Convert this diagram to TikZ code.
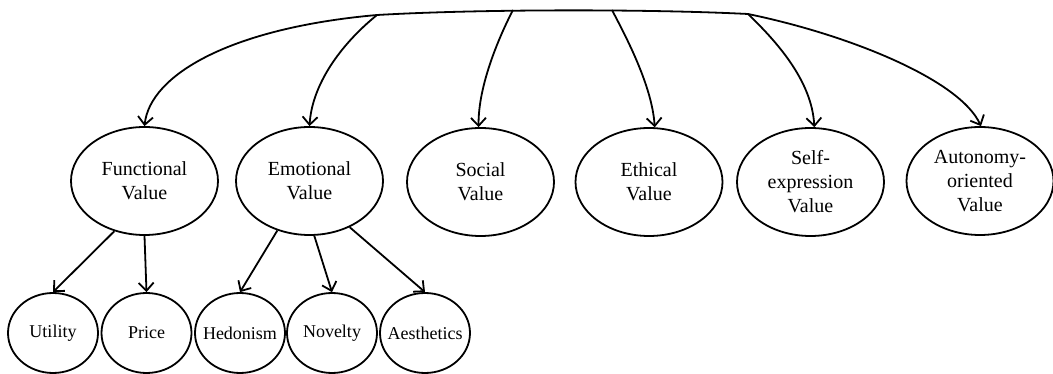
\documentclass[tikz,border=0pt]{standalone}
\usepackage{fontspec}
\setmainfont{Liberation Serif}
\usetikzlibrary{arrows.meta,shapes.geometric}
\newcommand{\nobox}[1]{\makebox[0pt]{#1}}
\begin{document}
\begin{tikzpicture}[x=1pt,y=-1pt,
  lw/.style={line width=1.8pt},
  big/.style={ellipse,draw,lw,minimum width=147pt,minimum height=108pt,inner sep=0pt,align=center,font=\fontsize{20}{24}\selectfont},
  small/.style={ellipse,draw,lw,minimum width=90pt,minimum height=80pt,inner sep=0pt,font=\fontsize{18}{22}\selectfont},
  arr/.style={lw,-{Straight Barb[length=8pt,width=15pt,line width=1.8pt]}}]
\useasboundingbox (0,0) rectangle (1053,374);
\node[big] (fv) at (144.5,181) {Functional\\Value};
\node[big] (ev) at (309.5,181) {Emotional\\Value};
\node[big] (sv) at (480.5,182) {Social\\Value};
\node[big] (tv) at (649,182) {Ethical\\Value};
\node[big] (xv) at (810.5,182) {Self-\\expression\\Value};
\node[big] (av) at (980,181) {Autonomy-\\oriented\\Value};
\node[small] (ut) at (53,333) {\nobox{Utility}};
\node[small] (pr) at (146.5,333) {\nobox{Price}};
\node[small] (he) at (240,333) {\nobox{Hedonism}};
\node[small] (no) at (332,333) {\nobox{Novelty}};
\node[small] (ae) at (425,333) {\nobox{Aesthetics}};
\coordinate (b1) at (377,15);
\coordinate (b2) at (513,10);
\coordinate (b3) at (612,10);
\coordinate (b4) at (748,14);
\draw[lw] (b1) .. controls (480,9) and (650,9) .. (b4);
\draw[arr] (b1) .. controls (230,28) and (150,75) .. (fv.north);
\draw[arr] (b1) .. controls (340,45) and (312,85) .. (ev.north);
\draw[arr] (b2) .. controls (500,35) and (478,85) .. (sv.92);
\draw[arr] (b3) .. controls (625,35) and (652,85) .. (tv.84);
\draw[arr] (b4) .. controls (775,40) and (812,80) .. (xv.86);
\draw[arr] (b4) .. controls (850,35) and (960,80) .. (av.89);
\draw[arr] (fv.239) -- (ut.north);
\draw[arr] (fv.south) -- (pr.north);
\draw[arr] (ev.237) -- (he.north);
\draw[arr] (ev.275) -- (no.north);
\draw[arr] (ev.311) -- (ae.north);
\end{tikzpicture}
\end{document}
